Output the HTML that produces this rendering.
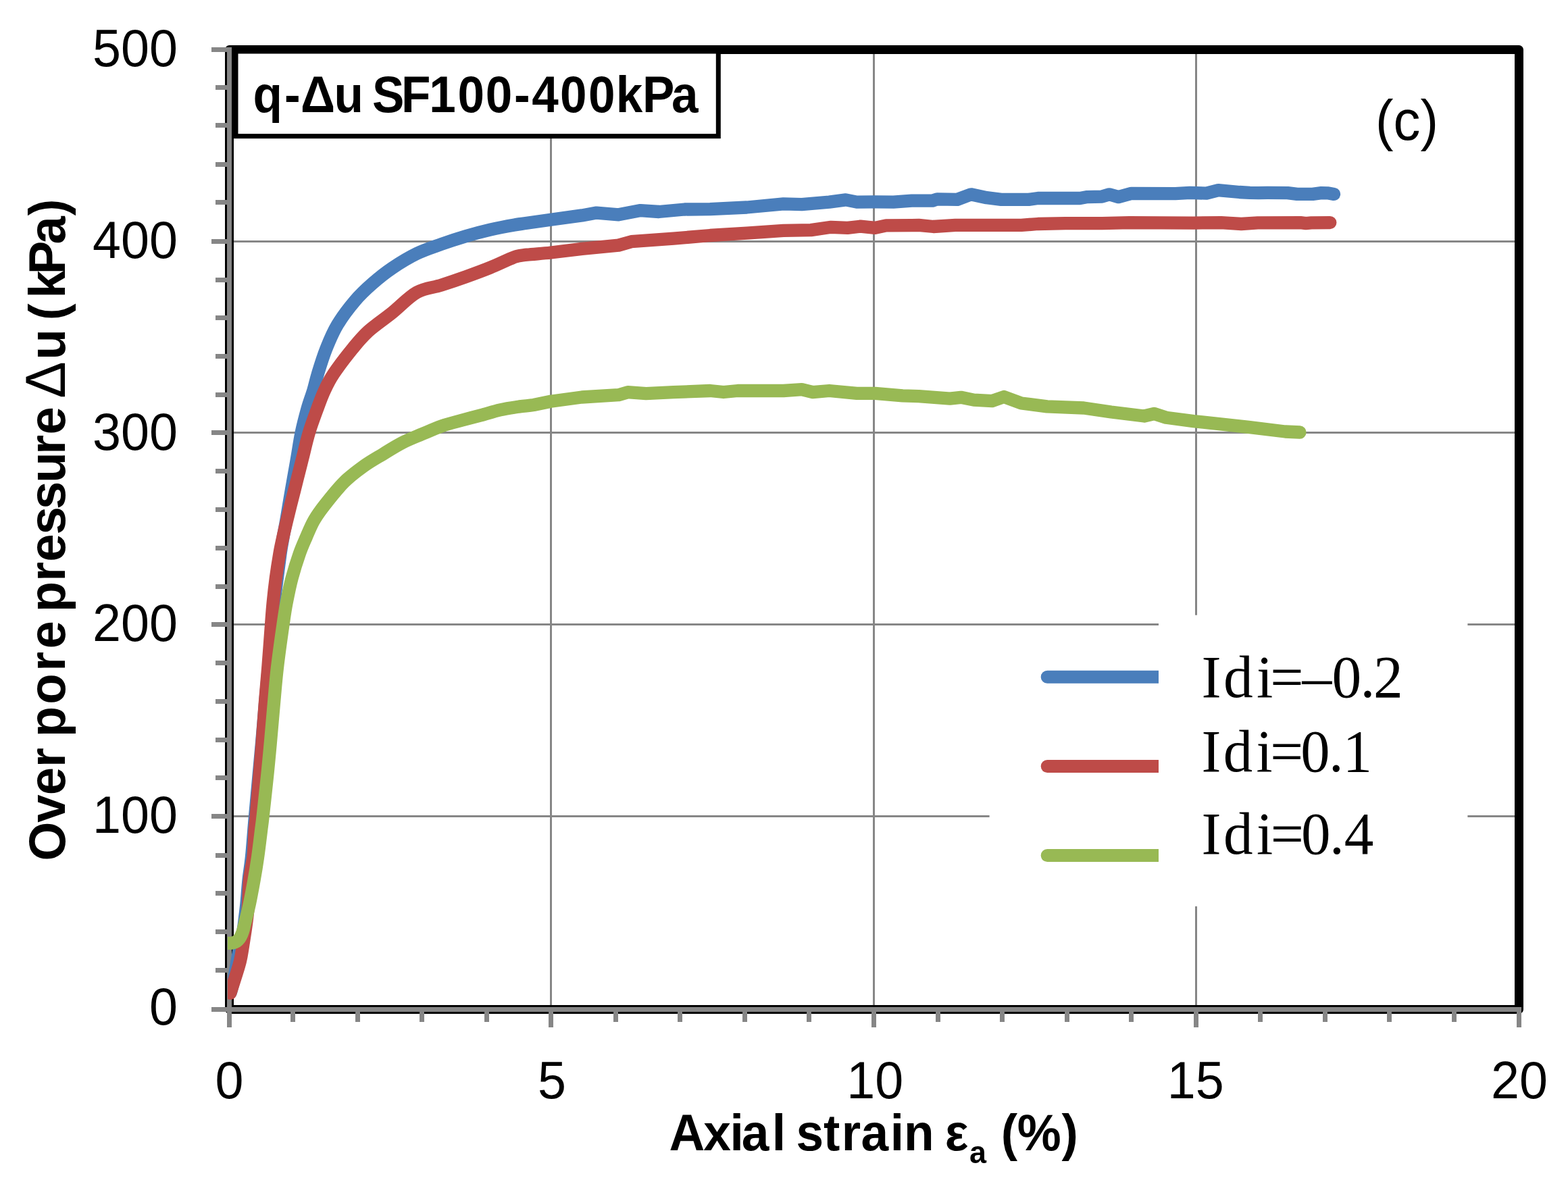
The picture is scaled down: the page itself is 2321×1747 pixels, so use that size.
<!DOCTYPE html>
<html lang="en"><head><meta charset="utf-8"><title>q-Δu SF100-400kPa</title>
<style>html,body{margin:0;padding:0;background:#fff}body{width:2321px;height:1747px;overflow:hidden}svg{display:block}text{font-family:"Liberation Sans",sans-serif;fill:#000}.b{font-weight:bold}.s{font-family:"Liberation Serif",serif}</style></head><body>
<svg width="2321" height="1747" viewBox="0 0 2321 1747">
<rect width="2321" height="1747" fill="#fff"/>
<g stroke="#868686" stroke-width="3" shape-rendering="crispEdges"><line x1="815.5" y1="74" x2="815.5" y2="1494"/><line x1="1293.5" y1="74" x2="1293.5" y2="1494"/><line x1="1770.5" y1="74" x2="1770.5" y2="1494"/><line x1="340" y1="1208.5" x2="2248" y2="1208.5"/><line x1="340" y1="924.5" x2="2248" y2="924.5"/><line x1="340" y1="640.5" x2="2248" y2="640.5"/><line x1="340" y1="357.5" x2="2248" y2="357.5"/></g>
<rect x="339.5" y="73.5" width="1909" height="1421" fill="none" stroke="#000" stroke-width="13" stroke-linejoin="round"/>
<g stroke="#868686" stroke-width="7" shape-rendering="crispEdges"><line x1="339.5" y1="70" x2="339.5" y2="1521"/><line x1="313" y1="1494.5" x2="2252" y2="1494.5"/><line x1="339.5" y1="1494" x2="339.5" y2="1521"/><line x1="433.5" y1="1494" x2="433.5" y2="1513"/><line x1="529.5" y1="1494" x2="529.5" y2="1513"/><line x1="624.5" y1="1494" x2="624.5" y2="1513"/><line x1="720.5" y1="1494" x2="720.5" y2="1513"/><line x1="815.5" y1="1494" x2="815.5" y2="1521"/><line x1="911.5" y1="1494" x2="911.5" y2="1513"/><line x1="1006.5" y1="1494" x2="1006.5" y2="1513"/><line x1="1102.5" y1="1494" x2="1102.5" y2="1513"/><line x1="1197.5" y1="1494" x2="1197.5" y2="1513"/><line x1="1293.5" y1="1494" x2="1293.5" y2="1521"/><line x1="1388.5" y1="1494" x2="1388.5" y2="1513"/><line x1="1483.5" y1="1494" x2="1483.5" y2="1513"/><line x1="1579.5" y1="1494" x2="1579.5" y2="1513"/><line x1="1674.5" y1="1494" x2="1674.5" y2="1513"/><line x1="1770.5" y1="1494" x2="1770.5" y2="1521"/><line x1="1865.5" y1="1494" x2="1865.5" y2="1513"/><line x1="1961.5" y1="1494" x2="1961.5" y2="1513"/><line x1="2056.5" y1="1494" x2="2056.5" y2="1513"/><line x1="2152.5" y1="1494" x2="2152.5" y2="1513"/><line x1="2248.5" y1="1494" x2="2248.5" y2="1521"/><line x1="313" y1="1494.5" x2="340" y2="1494.5"/><line x1="319" y1="1436.5" x2="340" y2="1436.5"/><line x1="319" y1="1379.5" x2="340" y2="1379.5"/><line x1="319" y1="1322.5" x2="340" y2="1322.5"/><line x1="319" y1="1266.5" x2="340" y2="1266.5"/><line x1="313" y1="1208.5" x2="340" y2="1208.5"/><line x1="319" y1="1151.5" x2="340" y2="1151.5"/><line x1="319" y1="1095.5" x2="340" y2="1095.5"/><line x1="319" y1="1038.5" x2="340" y2="1038.5"/><line x1="319" y1="981.5" x2="340" y2="981.5"/><line x1="313" y1="924.5" x2="340" y2="924.5"/><line x1="319" y1="868.5" x2="340" y2="868.5"/><line x1="319" y1="811.5" x2="340" y2="811.5"/><line x1="319" y1="754.5" x2="340" y2="754.5"/><line x1="319" y1="697.5" x2="340" y2="697.5"/><line x1="313" y1="640.5" x2="340" y2="640.5"/><line x1="319" y1="584.5" x2="340" y2="584.5"/><line x1="319" y1="527.5" x2="340" y2="527.5"/><line x1="319" y1="470.5" x2="340" y2="470.5"/><line x1="319" y1="414.5" x2="340" y2="414.5"/><line x1="313" y1="357.5" x2="340" y2="357.5"/><line x1="319" y1="299.5" x2="340" y2="299.5"/><line x1="319" y1="243.5" x2="340" y2="243.5"/><line x1="319" y1="185.5" x2="340" y2="185.5"/><line x1="319" y1="129.5" x2="340" y2="129.5"/><line x1="313" y1="73.5" x2="340" y2="73.5"/></g>
<defs><clipPath id="pc"><rect x="337" y="60" width="1920" height="1445"/></clipPath></defs>
<g clip-path="url(#pc)" fill="none" stroke-width="19.3" stroke-linecap="round" stroke-linejoin="round"><path stroke="#4A7EBB" d="M341.5,1469.0 C342.3,1465.6 344.4,1459.3 346.5,1448.7 C348.6,1438.1 352.0,1416.8 354.2,1405.3 C356.4,1393.8 358.2,1386.6 359.5,1380.0 C360.8,1373.4 360.8,1372.5 361.7,1365.6 C362.6,1358.7 363.8,1349.0 364.9,1338.5 C366.0,1328.0 366.8,1314.0 368.1,1302.3 C369.4,1290.5 370.9,1283.6 372.5,1268.0 C374.1,1252.4 375.0,1236.8 377.5,1208.8 C380.0,1180.8 384.9,1128.8 387.5,1100.0 C390.1,1071.2 391.3,1054.7 393.0,1036.0 C394.7,1017.3 395.8,1006.7 397.5,988.0 C399.2,969.3 401.6,940.0 403.0,924.0 C404.4,908.0 404.8,903.3 406.0,892.0 C407.2,880.7 408.8,868.0 410.3,856.0 C411.8,844.0 413.6,830.0 415.0,820.0 C416.4,810.0 417.6,804.0 419.0,796.0 C420.4,788.0 422.1,780.0 423.5,772.0 C424.9,764.0 426.1,756.0 427.5,748.0 C428.9,740.0 430.5,730.3 431.6,724.0 C432.7,717.7 432.7,717.8 434.1,710.0 C435.5,702.2 437.8,689.1 439.8,677.5 C441.8,665.9 443.7,652.3 446.2,640.3 C448.7,628.2 452.1,615.6 455.0,605.2 C457.9,594.8 461.2,586.8 463.8,578.1 C466.4,569.4 467.4,563.4 470.5,553.2 C473.6,543.0 477.8,529.1 482.6,517.0 C487.4,504.9 492.3,492.9 499.5,480.8 C506.7,468.8 517.4,454.8 526.0,444.7 C534.6,434.6 541.9,428.0 551.0,420.0 C560.1,412.0 569.8,404.1 580.8,396.7 C591.8,389.3 604.9,381.3 617.0,375.4 C629.1,369.5 641.2,365.8 653.2,361.5 C665.2,357.2 677.2,353.3 689.3,349.7 C701.3,346.1 713.4,342.9 725.5,340.1 C737.6,337.3 752.6,334.5 761.7,332.9 C770.8,331.3 771.1,331.6 780.0,330.3 C788.9,329.0 801.7,327.1 815.3,325.2 L861.4,318.9 L883.0,315.1 L915.6,317.8 L948.2,311.6 L975.3,313.5 L1013.3,310.0 L1051.2,309.7 L1105.5,307.0 L1159.7,301.8 L1186.8,302.7 L1227.5,299.1 L1251.9,295.9 L1268.2,299.1 L1295.3,298.9 L1322.5,299.1 L1349.6,297.2 L1380.0,297.2 L1387.1,294.9 L1417.0,295.4 L1437.3,287.8 L1460.4,292.7 L1482.0,295.4 L1522.7,295.4 L1536.3,293.5 L1598.7,293.5 L1609.5,291.6 L1631.2,291.1 L1642.1,287.8 L1655.6,291.6 L1674.6,286.4 L1739.7,286.7 L1761.4,285.4 L1785.8,286.2 L1803.4,281.6 L1834.6,284.5 L1850.0,285.4 L1863.0,285.6 L1876.0,285.4 L1906.0,285.6 L1920.0,287.4 L1943.0,287.4 L1956.0,285.6 L1965.0,285.8 L1974.5,287.4"/><path stroke="#BE4B48" d="M340.8,1470.4 C342.7,1464.4 349.6,1443.2 352.3,1434.2 C355.0,1425.2 355.2,1425.2 356.9,1416.2 C358.6,1407.2 361.2,1389.9 362.7,1380.0 C364.2,1370.1 365.1,1363.5 365.9,1356.6 C366.7,1349.7 367.0,1347.5 367.6,1338.5 C368.2,1329.5 368.3,1314.0 369.5,1302.3 C370.7,1290.5 373.7,1280.0 375.0,1268.0 C376.3,1256.0 376.4,1239.9 377.1,1230.0 C377.8,1220.1 377.3,1230.5 379.1,1208.8 C380.9,1187.1 385.7,1128.8 388.0,1100.0 C390.3,1071.2 391.2,1054.7 392.7,1036.0 C394.2,1017.3 395.3,1006.7 396.8,988.0 C398.3,969.3 400.4,940.0 401.6,924.0 C402.8,908.0 403.1,903.3 404.2,892.0 C405.3,880.7 406.7,868.0 408.3,856.0 C409.9,844.0 412.1,830.0 413.8,820.0 C415.5,810.0 416.9,804.0 418.7,796.0 C420.4,788.0 422.4,780.0 424.3,772.0 C426.2,764.0 428.2,756.0 430.2,748.0 C432.2,740.0 434.7,730.3 436.3,724.0 C437.9,717.7 437.9,717.8 439.8,710.0 C441.8,702.2 445.1,689.1 448.0,677.5 C450.9,665.9 453.9,652.3 457.5,640.3 C461.1,628.2 465.9,615.6 469.7,605.2 C473.5,594.8 476.3,586.8 480.4,578.1 C484.4,569.4 487.2,563.4 494.0,553.2 C500.8,543.0 512.8,527.4 521.2,517.0 C529.7,506.6 534.8,499.9 544.7,490.8 C554.6,481.8 568.8,472.4 580.8,462.7 C592.8,453.0 604.9,439.7 617.0,432.9 C629.1,426.1 641.2,426.0 653.2,422.1 C665.2,418.2 677.2,414.1 689.3,409.8 C701.3,405.5 713.4,401.1 725.5,396.2 C737.6,391.3 752.6,383.7 761.7,380.5 C770.8,377.3 771.1,378.3 780.0,377.2 C788.9,376.1 801.7,375.5 815.3,374.0 L861.4,368.3 L915.6,363.1 L934.6,357.7 L997.0,353.1 L1051.2,348.5 L1105.5,345.2 L1159.7,341.4 L1200.4,340.6 L1230.2,336.3 L1254.6,337.4 L1273.6,335.2 L1295.3,337.4 L1311.6,333.8 L1349.6,333.6 L1360.0,333.4 L1381.7,335.5 L1414.2,333.4 L1511.9,333.4 L1536.3,331.5 L1577.0,330.7 L1631.2,330.7 L1671.9,329.6 L1766.8,330.1 L1807.5,329.6 L1837.4,331.5 L1861.8,329.8 L1925.0,329.6 L1933.0,330.6 L1941.0,329.8 L1968.8,329.6"/><path stroke="#98B954" d="M337.0,1396.5 C338.3,1396.4 342.8,1396.3 345.0,1395.8 C347.2,1395.3 348.9,1394.5 350.5,1393.5 C352.1,1392.5 353.3,1391.1 354.5,1389.5 C355.7,1387.9 356.6,1386.1 357.5,1384.0 C358.4,1381.9 359.1,1380.3 360.0,1377.0 C360.9,1373.7 361.6,1370.4 363.2,1364.0 C364.8,1357.6 367.1,1348.8 369.3,1338.5 C371.5,1328.2 374.1,1314.0 376.2,1302.3 C378.3,1290.5 380.0,1280.0 381.7,1268.0 C383.4,1256.0 385.3,1239.8 386.5,1230.0 C387.7,1220.2 387.6,1222.7 389.1,1209.0 C390.6,1195.3 393.8,1166.2 395.7,1148.0 C397.6,1129.8 398.6,1118.7 400.3,1100.0 C402.0,1081.3 404.2,1054.7 405.9,1036.0 C407.6,1017.3 408.3,1006.7 410.5,988.0 C412.7,969.3 416.8,940.0 419.1,924.0 C421.4,908.0 422.0,903.3 424.2,892.0 C426.4,880.7 428.9,868.0 432.1,856.0 C435.3,844.0 439.7,830.0 443.2,820.0 C446.7,810.0 449.4,804.2 453.0,796.0 C456.6,787.8 460.0,778.9 464.5,771.0 C469.0,763.1 472.6,758.0 480.0,748.5 C487.4,739.0 499.2,724.0 508.9,714.3 C518.5,704.6 528.2,697.5 537.9,690.5 C547.5,683.5 557.2,678.2 566.8,672.4 C576.4,666.5 586.1,660.3 595.7,655.4 C605.4,650.5 615.1,646.8 624.7,642.7 C634.4,638.6 644.0,634.2 653.6,630.8 C663.2,627.4 672.9,625.1 682.5,622.5 C692.1,619.9 701.9,617.5 711.5,614.9 C721.1,612.3 730.8,609.0 740.4,606.8 C750.0,604.6 761.0,603.1 769.3,601.9 C777.6,600.7 782.3,600.8 790.0,599.5 L815.3,594.2 L861.4,588.0 L915.6,584.7 L929.2,580.7 L956.3,582.6 L997.0,580.7 L1051.2,578.5 L1071.0,580.5 L1091.9,578.5 L1159.7,578.5 L1186.8,576.6 L1203.1,580.7 L1227.5,578.5 L1268.2,582.3 L1295.3,582.3 L1336.0,585.8 L1360.0,586.7 L1406.1,590.2 L1422.4,588.3 L1441.4,592.1 L1468.5,593.7 L1486.1,587.5 L1511.9,597.0 L1549.9,601.9 L1604.1,604.0 L1644.8,610.0 L1693.6,616.0 L1708.5,612.5 L1726.2,618.2 L1766.8,623.6 L1848.2,632.3 L1902.4,639.0 L1924.0,640.0"/></g>
<rect x="349" y="76" width="714.3" height="125.6" fill="#fff" stroke="#000" stroke-width="7"/>
<text class="b" font-size="76" dx="0.5 3.3 0.5 -1.7 -3 -4.2 -4.7 -2.4 3 1.9 2.9 2.7 2.4 2.7 1.4 -0.3 -4.7" transform="translate(374,165.7) scale(0.935,1)">q-Δu SF100-400kPa</text>
<text font-size="84" transform="translate(2036,207.3) scale(0.95,1)">(c)</text>
<rect x="1464.6" y="1170" width="252" height="70" fill="#fff"/>
<g stroke-width="19" stroke-linecap="round"><line stroke="#4A7EBB" x1="1550.2" y1="1002.3" x2="1725" y2="1002.3"/><line stroke="#BE4B48" x1="1550.2" y1="1134.5" x2="1725" y2="1134.5"/><line stroke="#98B954" x1="1550.2" y1="1266.5" x2="1725" y2="1266.5"/></g>
<rect x="1715" y="910.7" width="457.4" height="431.1" fill="#fff"/>
<text class="s" font-size="88.9" dx="0 3.3 5.4 -4.1 -2 0.1 -1.7 -2.5" transform="translate(1778.5,1031.9) scale(0.984,1)">Idi=–0.2</text>
<text class="s" font-size="88.9" dx="0 3.5 5.5 -3.5 -3.8 -1.7 -1" transform="translate(1778.5,1142.0) scale(0.975,1)">Idi=0.1</text>
<text class="s" font-size="88.9" dx="0 3.5 5.5 -3.5 -3.8 -1.7 0" transform="translate(1778.5,1264.1) scale(0.980,1)">Idi=0.4</text>
<text font-size="77" text-anchor="end" transform="translate(263,98.0) scale(0.98,1)">500</text>
<text font-size="77" text-anchor="end" transform="translate(263,381.8) scale(0.98,1)">400</text>
<text font-size="77" text-anchor="end" transform="translate(263,665.6) scale(0.98,1)">300</text>
<text font-size="77" text-anchor="end" transform="translate(263,949.4) scale(0.98,1)">200</text>
<text font-size="77" text-anchor="end" transform="translate(263,1233.2) scale(0.98,1)">100</text>
<text font-size="77" text-anchor="end" transform="translate(263,1517.0) scale(0.98,1)">0</text>
<text font-size="77" text-anchor="middle" transform="translate(339.4,1626.3) scale(0.98,1)">0</text>
<text font-size="77" text-anchor="middle" transform="translate(817.0,1626.3) scale(0.98,1)">5</text>
<text font-size="77" text-anchor="middle" transform="translate(1295.2,1626.3) scale(0.98,1)">10</text>
<text font-size="77" text-anchor="middle" transform="translate(1769.7,1626.3) scale(0.98,1)">15</text>
<text font-size="77" text-anchor="middle" transform="translate(2249.0,1626.3) scale(0.98,1)">20</text>
<text class="b" font-size="76.5" dx="0.5 -2.1 -1.3 -3.4 4.6 -1.6 -3.4 0 2.3 0.5 2.6 0 -2.1 -2.1 1.5 1.7 0 -0.5 1" transform="translate(990,1703.4) scale(0.955,1)">Axial strain ε<tspan font-size="47" dy="18.3">a</tspan><tspan dy="-18.3"> (%)</tspan></text>
<text class="b" font-size="76.5" word-spacing="-7" dx="-3.1 -1 -1 0 1 1 3.1 3.6 4.6 -0.5 -0.5 0 0 -1 -4.1 -2.1 -3.5 0.2 -0.8 -0.5 2.6 -0.5 -0.5 8.2 -6.2 -5.1 1" transform="translate(96.4,1271.5) rotate(-90) scale(0.972,1)">Over pore pressure <tspan font-weight="normal" font-size="84">Δ</tspan>u (kPa)</text>
</svg></body></html>
